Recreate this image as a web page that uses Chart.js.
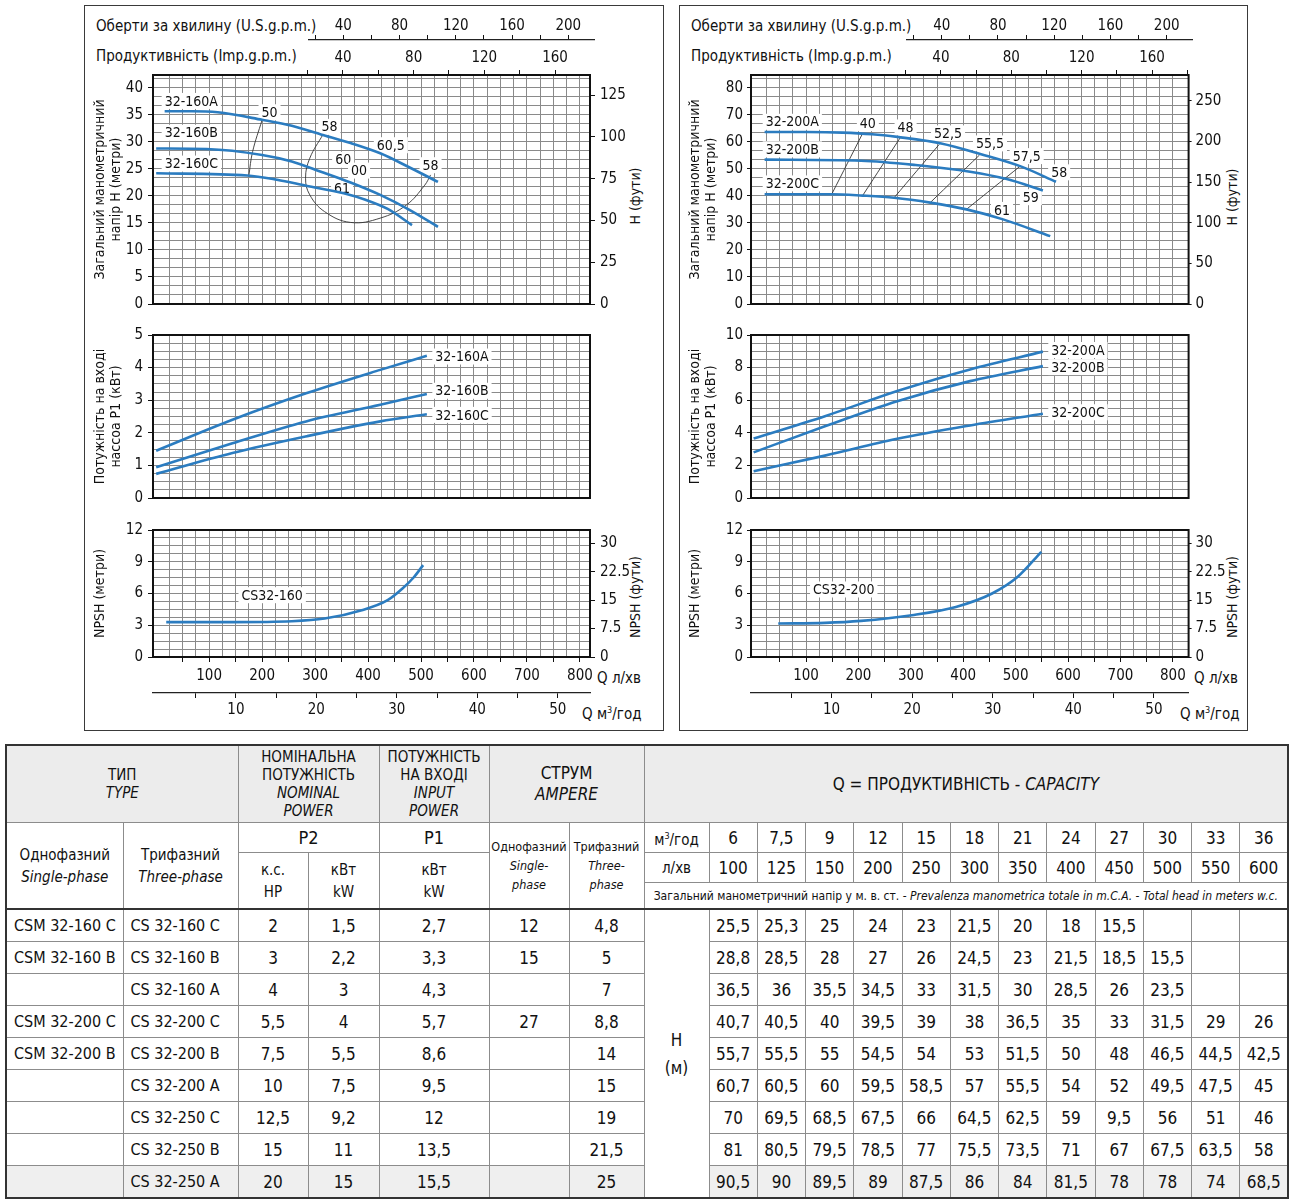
<!DOCTYPE html>
<html lang="uk">
<head>
<meta charset="utf-8">
<title>CS 32-160 / CS 32-200</title>
<script src="https://cdn.jsdelivr.net/npm/chart.js@4.4.1/dist/chart.umd.min.js"></script>
<style>
  html, body { margin: 0; background: #fff; }
  #page { position: relative; width: 1294px; height: 1204px; overflow: hidden;
    font-family: "Liberation Sans Narrow", "DejaVu Sans Condensed", "Liberation Sans", sans-serif; color: #111; }
  .panel { position: absolute; border: 1.5px solid #3a3a3a; box-sizing: border-box; }
  #page canvas { position: absolute; }
  .lbl { position: absolute; font-size: 15px; line-height: 18px; white-space: nowrap; }
  .rot { position: absolute; font-size: 14px; line-height: 17px; white-space: nowrap;
    transform: translate(-50%, -50%) rotate(-90deg); }
  #tbl { position: absolute; left: 5px; top: 744px; width: 1283px; border-collapse: collapse;
    table-layout: fixed; border: 2px solid #333; }
  #tbl td, #tbl th { border: 1px solid #8c8c8c; text-align: center; padding: 0; font-weight: normal;
    overflow: hidden; white-space: nowrap; }
  #tbl th { font-size: 15px; line-height: 18px; }
  #tbl .r1 th { background: #ececec; height: 76px; }
  #tbl .r2 th, #tbl .r3 th { height: 29px; font-size: 17px; }
  #tbl .r4 th { height: 25px; font-size: 12px; }
  #tbl .big { font-size: 18px !important; }
  #tbl td { font-size: 17px; height: 31px; line-height: 20px; }
  #tbl td.nm { text-align: left; padding-left: 7px; font-size: 16px; }
  #tbl tr.first td { border-top: 2px solid #333; }
  #tbl tr.last td { background: #efefef; }
  #tbl td.hcell { background: #fff !important; font-size: 17px; line-height: 28px; }
</style>
</head>
<body>
<div id="page">
  <div class="panel" style="left:84px;top:5px;width:580px;height:726px"></div>
  <div class="panel" style="left:679px;top:5px;width:569px;height:726px"></div>

  <div class="lbl" style="left:96px;top:17px">Оберти за хвилину (U.S.g.p.m.)</div>
  <div class="lbl" style="left:96px;top:47px">Продуктивність (Imp.g.p.m.)</div>
  <div class="lbl" style="left:597px;top:669px">Q л/хв</div>
  <div class="lbl" style="left:582px;top:701px">Q м<sup style="font-size:9px">3</sup>/год</div>
  <div class="rot" style="left:635px;top:196px">H (фути)</div>
  <div class="rot" style="left:635px;top:597px">NPSH (фути)</div>

  <div class="lbl" style="left:691px;top:17px">Оберти за хвилину (U.S.g.p.m.)</div>
  <div class="lbl" style="left:691px;top:47px">Продуктивність (Imp.g.p.m.)</div>
  <div class="lbl" style="left:1194px;top:669px">Q л/хв</div>
  <div class="lbl" style="left:1180px;top:701px">Q м<sup style="font-size:9px">3</sup>/год</div>
  <div class="rot" style="left:1232px;top:197px">H (фути)</div>
  <div class="rot" style="left:1232px;top:597px">NPSH (фути)</div>

  <table id="tbl"></table>
</div>

<script>
const FONT = '"Liberation Sans Narrow", "DejaVu Sans Condensed", "Liberation Sans", sans-serif';
const BLUE = '#2b7cc0';
const GRID = '#8a8a8a';

// ---------- CS 32-160 : head (Q л/хв -> H м) ----------
const q160A = [16, 67, 116, 200, 256, 311, 367, 423, 472, 532];
const h160A = [35.7, 35.7, 35.5, 34.1, 33.0, 31.4, 29.8, 27.9, 25.6, 22.6];
const q160B = [0, 95, 200, 256, 311, 367, 423, 479, 532];
const h160B = [28.8, 28.7, 27.6, 26.4, 24.5, 22.5, 20.2, 17.4, 14.3];
const q160C = [0, 172, 228, 283, 354, 395, 437, 483];
const h160C = [24.2, 23.8, 23.0, 21.9, 20.5, 19.3, 17.6, 14.6];
// efficiency lines
const qEff50 = [200, 182, 175];
const hEff50 = [34.1, 28.2, 23.8];
const qEff58 = [315, 290, 282, 290, 318, 367, 423, 472, 507, 518];
const hEff58 = [31.4, 27.0, 23.3, 20.2, 17.1, 15.1, 15.9, 18.3, 22.0, 23.9];
// power P1 (кВт)
const qPow160 = [0, 144, 283, 423, 511];
const p160A = [1.45, 2.40, 3.21, 3.93, 4.36];
const p160B = [0.94, 1.68, 2.35, 2.86, 3.19];
const p160C = [0.74, 1.38, 1.89, 2.35, 2.57];
// NPSH (м)
const qNpsh160 = [19, 144, 256, 318, 388, 437, 465, 486, 504];
const npsh160 = [3.3, 3.3, 3.38, 3.63, 4.42, 5.37, 6.47, 7.51, 8.68];

// ---------- CS 32-200 ----------
const q200A = [21, 101, 170, 226, 274, 358, 434, 511, 577];
const h200A = [63.6, 63.6, 63.4, 62.8, 61.8, 59.4, 55.4, 50.8, 45.2];
const q200B = [21, 205, 309, 413, 483, 552];
const h200B = [53.4, 53.0, 51.4, 48.9, 46.2, 42.0];
const q200C = [21, 149, 208, 268, 337, 406, 476, 566];
const h200C = [40.6, 40.6, 40.1, 39.3, 37.5, 35.0, 31.3, 25.1];
const effLines200 = [
  { q: [149, 208], h: [40.6, 63.1] },
  { q: [208, 281], h: [40.1, 61.9] },
  { q: [268, 354], h: [39.3, 59.0] },
  { q: [337, 431], h: [37.5, 55.1] },
  { q: [406, 510], h: [35.0, 51.2] }
];
const qPow200 = [0, 136, 274, 413, 552];
const p200A = [3.65, 5.02, 6.56, 7.89, 8.98];
const p200B = [2.80, 4.40, 5.94, 7.17, 8.09];
const p200C = [1.64, 2.60, 3.63, 4.45, 5.17];
const qNpsh200 = [47, 136, 205, 302, 386, 455, 504, 549];
const npsh200 = [3.16, 3.22, 3.41, 3.95, 4.73, 6.0, 7.58, 9.94];

// ---------- text labels inside plots (q, value) ----------
const notesHead160 = [
  { t: '32-160A', q: 16, v: 37.6, a: 'left' }, { t: '32-160B', q: 16, v: 31.7, a: 'left' },
  { t: '32-160C', q: 16, v: 26.0, a: 'left' },
  { t: '50', q: 214, v: 35.5 }, { t: '58', q: 327, v: 32.8 }, { t: '60,5', q: 443, v: 29.4 },
  { t: '60', q: 353, v: 26.7 }, { t: '00', q: 383, v: 24.7 }, { t: '61', q: 351, v: 21.4 },
  { t: '58', q: 518, v: 25.7 }
];
const notesPow160 = [
  { t: '32-160A', q: 527, v: 4.34, a: 'left' }, { t: '32-160B', q: 527, v: 3.29, a: 'left' },
  { t: '32-160C', q: 527, v: 2.55, a: 'left' }
];
const notesNpsh160 = [{ t: 'CS32-160', q: 219, v: 5.84 }];
const notesHead200 = [
  { t: '32-200A', q: 23, v: 67.4, a: 'left' }, { t: '32-200B', q: 23, v: 57.2, a: 'left' },
  { t: '32-200C', q: 23, v: 44.6, a: 'left' },
  { t: '40', q: 218, v: 66.9 }, { t: '48', q: 290, v: 65.3 }, { t: '52,5', q: 371, v: 63.1 },
  { t: '55,5', q: 451, v: 59.4 }, { t: '57,5', q: 521, v: 54.7 }, { t: '58', q: 583, v: 48.7 },
  { t: '59', q: 529, v: 39.5 }, { t: '61', q: 474, v: 34.8 }
];
const notesPow200 = [
  { t: '32-200A', q: 568, v: 9.08, a: 'left' }, { t: '32-200B', q: 568, v: 8.03, a: 'left' },
  { t: '32-200C', q: 568, v: 5.26, a: 'left' }
];
const notesNpsh200 = [{ t: 'CS32-200', q: 172, v: 6.38 }];

// ---------- table ----------
const typeSingle = ['CSM 32-160 C', 'CSM 32-160 B', '', 'CSM 32-200 C', 'CSM 32-200 B', '', '', '', ''];
const typeThree = ['CS 32-160 C', 'CS 32-160 B', 'CS 32-160 A', 'CS 32-200 C', 'CS 32-200 B',
  'CS 32-200 A', 'CS 32-250 C', 'CS 32-250 B', 'CS 32-250 A'];
const p2Hp = [2, 3, 4, 5.5, 7.5, 10, 12.5, 15, 20];
const p2Kw = [1.5, 2.2, 3, 4, 5.5, 7.5, 9.2, 11, 15];
const p1Kw = [2.7, 3.3, 4.3, 5.7, 8.6, 9.5, 12, 13.5, 15.5];
const ampSingle = [12, 15, null, 27, null, null, null, null, null];
const ampThree = [4.8, 5, 7, 8.8, 14, 15, 19, 21.5, 25];
const capM3 = [6, 7.5, 9, 12, 15, 18, 21, 24, 27, 30, 33, 36];
const capLmin = [100, 125, 150, 200, 250, 300, 350, 400, 450, 500, 550, 600];
const headRows = [
  [25.5, 25.3, 25, 24, 23, 21.5, 20, 18, 15.5, null, null, null],
  [28.8, 28.5, 28, 27, 26, 24.5, 23, 21.5, 18.5, 15.5, null, null],
  [36.5, 36, 35.5, 34.5, 33, 31.5, 30, 28.5, 26, 23.5, null, null],
  [40.7, 40.5, 40, 39.5, 39, 38, 36.5, 35, 33, 31.5, 29, 26],
  [55.7, 55.5, 55, 54.5, 54, 53, 51.5, 50, 48, 46.5, 44.5, 42.5],
  [60.7, 60.5, 60, 59.5, 58.5, 57, 55.5, 54, 52, 49.5, 47.5, 45],
  [70, 69.5, 68.5, 67.5, 66, 64.5, 62.5, 59, 9.5, 56, 51, 46],
  [81, 80.5, 79.5, 78.5, 77, 75.5, 73.5, 71, 67, 67.5, 63.5, 58],
  [90.5, 90, 89.5, 89, 87.5, 86, 84, 81.5, 78, 78, 74, 68.5]
];

// ---------- helpers ----------
Chart.defaults.font.family = FONT;
Chart.defaults.font.size = 15;
Chart.defaults.color = '#111';
Chart.defaults.animation = false;

const pts = (qs, vs) => qs.map((q, i) => ({ x: q, y: vs[i] }));
const comma = v => (v === null || v === undefined) ? '' : String(v).replace('.', ',');
const isMult = (v, s) => Math.abs(v / s - Math.round(v / s)) < 1e-6;
function range(a, b, s) { const out = []; for (let v = a; v <= b + 1e-9; v += s) out.push(+v.toFixed(5)); return out; }
const ticksAt = list => axis => {
  axis.ticks = list.filter(v => v >= axis.min - 1e-9 && v <= axis.max + 1e-9).map(v => ({ value: v }));
};
// fixed axis sizes, and no extra label overflow padding
const fixW = w => s => { s.width = w; s.paddingTop = 0; s.paddingBottom = 0; };
const fixH = h => s => { s.height = h; s.paddingLeft = 0; s.paddingRight = 0; };

function mount(left, top, w, h) {
  const c = document.createElement('canvas');
  c.width = w; c.height = h;
  c.style.left = left + 'px'; c.style.top = top + 'px';
  c.style.width = w + 'px'; c.style.height = h + 'px';
  document.getElementById('page').appendChild(c);
  return c.getContext('2d');
}

const frame = {
  id: 'frame',
  afterDraw(chart) {
    const a = chart.chartArea, ctx = chart.ctx;
    ctx.save();
    ctx.lineWidth = 2; ctx.strokeStyle = '#111';
    ctx.strokeRect(a.left, a.top, a.right - a.left, a.bottom - a.top);
    ctx.restore();
  }
};

function notes(items) {
  return {
    id: 'notes',
    beforeDatasetsDraw(chart) {
      const ctx = chart.ctx, xs = chart.scales.x, ys = chart.scales.y;
      ctx.save();
      ctx.font = '14px ' + FONT;
      ctx.textBaseline = 'middle';
      items.forEach(n => {
        const px = xs.getPixelForValue(n.q), py = ys.getPixelForValue(n.v);
        const w = ctx.measureText(n.t).width;
        const x0 = n.a === 'left' ? px : px - w / 2;
        ctx.fillStyle = '#fff';
        ctx.fillRect(x0 - 3, py - 8, w + 6, 16);
        ctx.fillStyle = '#111';
        ctx.fillText(n.t, x0, py + 1);
      });
      ctx.restore();
    }
  };
}

const curve = (qs, vs) => ({ data: pts(qs, vs), borderColor: BLUE, borderWidth: 2.6, pointRadius: 0,
  tension: 0.4, cubicInterpolationMode: 'monotone' });
const thin = (qs, vs) => ({ data: pts(qs, vs), borderColor: '#333', borderWidth: 0.9, pointRadius: 0, tension: 0.4 });

// panel geometry
const L = { x: 84, w: 579, plotL: 153, plotR: 590, q: [-6, 819], m3: [-0.3, 54], imp: [-67.5, 179.8],
  us: [309, 594, 15.6, 218.3], tl: 5, tp: 5, rl: 5, rp: 5, headMax: 42.4, ftMax: 137,
  headGrid: 5 / 3, headLab: 5, ftTicks: [0, 25, 50, 75, 100, 125], powMax: 5, powGrid: 0.25, powLab: 1 };
const R = { x: 679, w: 568, plotL: 751, plotR: 1188.6, q: [-5, 830], m3: [0, 54.3], imp: [-68, 180.8],
  us: [906.5, 1192, 15.3, 218], tl: 4, tp: 4, rl: 3, rp: 4, headMax: 84.7, ftMax: 282,
  headGrid: 10 / 3, headLab: 10, ftTicks: [0, 50, 100, 150, 200, 250], powMax: 10, powGrid: 0.5, powLab: 2 };

function gridX(P) {
  return { type: 'linear', position: 'bottom', min: P.q[0], max: P.q[1],
    afterBuildTicks: ticksAt(range(25, 800, 25)),
    ticks: { display: false }, border: { display: false },
    grid: { color: GRID, drawTicks: false }, afterFit: fixH(0) };
}
function yLeft(P, max, step, lab, title) {
  return { type: 'linear', position: 'left', min: 0, max,
    afterBuildTicks: ticksAt(range(0, max, step)),
    ticks: { autoSkip: false, padding: P.tp, callback: v => isMult(v, lab) ? String(Math.round(v)) : '' },
    grid: { color: GRID, tickLength: P.tl, tickColor: c => isMult(c.tick.value, lab) ? '#111' : 'rgba(0,0,0,0)' },
    border: { display: false },
    title: { display: true, text: title, padding: { top: 7.6, bottom: 0 }, font: { size: 14 } },
    afterFit: fixW(P.plotL - P.x) };
}
function yRight(P, max, list) {
  return { type: 'linear', position: 'right', min: 0, max,
    afterBuildTicks: ticksAt(list),
    ticks: { autoSkip: false, padding: P.rp, callback: v => String(v) },
    grid: { drawOnChartArea: false, tickLength: P.rl, tickColor: '#111' },
    border: { display: false },
    afterFit: fixW(P.x + P.w - P.plotR) };
}

function usAxis(P) {
  const [x0, x1, mn, mx] = P.us;
  new Chart(mount(x0 - 20, 10, x1 - x0 + 40, 32), {
    type: 'line', data: { datasets: [] },
    options: { responsive: false, layout: { padding: { left: 20, right: 20, top: 0, bottom: 0 } },
      plugins: { legend: { display: false }, tooltip: { enabled: false } },
      scales: {
        x: { type: 'linear', position: 'top', min: mn, max: mx,
          afterBuildTicks: ticksAt(range(20, 200, 20)),
          ticks: { autoSkip: false, maxRotation: 0, padding: 0, callback: v => isMult(v, 40) ? String(v) : '' },
          grid: { drawOnChartArea: false, tickLength: 5, tickColor: '#111' },
          border: { display: true, color: '#222', width: 1.3 }, afterFit: fixH(30) },
        y: { display: false, min: 0, max: 1 }
      } }
  });
}

function headChart(P, datasets, items) {
  new Chart(mount(P.x, 44, P.w, 272), {
    type: 'line', data: { datasets },
    options: { responsive: false, layout: { padding: { top: 0, bottom: 12, left: 0, right: 0 } },
      plugins: { legend: { display: false }, tooltip: { enabled: false } },
      scales: {
        x: gridX(P),
        imp: { type: 'linear', position: 'top', min: P.imp[0], max: P.imp[1],
          afterBuildTicks: ticksAt(range(20, 200, 20)),
          ticks: { autoSkip: false, maxRotation: 0, padding: 3, callback: v => isMult(v, 40) ? String(v) : '' },
          grid: { drawOnChartArea: false, tickLength: 5, tickColor: '#111' },
          border: { display: false }, afterFit: fixH(31) },
        y: yLeft(P, P.headMax, P.headGrid, P.headLab, ['Загальний манометричний', 'напір H (метри)']),
        yft: yRight(P, P.ftMax, P.ftTicks)
      } },
    plugins: [frame, notes(items)]
  });
}

function powerChart(P, datasets, items) {
  new Chart(mount(P.x, 322, P.w, 188), {
    type: 'line', data: { datasets },
    options: { responsive: false,
      layout: { padding: { top: 13, bottom: 12, left: 0, right: P.x + P.w - P.plotR } },
      plugins: { legend: { display: false }, tooltip: { enabled: false } },
      scales: {
        x: gridX(P),
        y: yLeft(P, P.powMax, P.powGrid, P.powLab, ['Потужність на вході', 'нассоа P1 (кВт)'])
      } },
    plugins: [frame, notes(items)]
  });
}

function npshChart(P, datasets, items) {
  new Chart(mount(P.x, 518, P.w, 207), {
    type: 'line', data: { datasets },
    options: { responsive: false, layout: { padding: { top: 12, bottom: 0, left: 0, right: 0 } },
      plugins: { legend: { display: false }, tooltip: { enabled: false } },
      scales: {
        x: { type: 'linear', position: 'bottom', min: P.q[0], max: P.q[1],
          afterBuildTicks: ticksAt(range(25, 800, 25)),
          ticks: { autoSkip: false, maxRotation: 0, padding: 5, callback: v => isMult(v, 100) ? String(v) : '' },
          grid: { color: GRID, tickLength: 5, tickColor: c => isMult(c.tick.value, 50) ? '#111' : 'rgba(0,0,0,0)' },
          border: { display: false }, afterFit: fixH(36) },
        m3: { type: 'linear', position: 'bottom', weight: 1, min: P.m3[0], max: P.m3[1],
          afterBuildTicks: ticksAt(range(5, 50, 5)),
          ticks: { autoSkip: false, maxRotation: 0, padding: 3, callback: v => isMult(v, 10) ? String(v) : '' },
          grid: { drawOnChartArea: false, tickLength: 5, tickColor: '#111' },
          border: { display: true, color: '#222', width: 1.3 }, afterFit: fixH(32) },
        y: yLeft(P, 12, 0.75, 3, 'NPSH (метри)'),
        yft: yRight(P, 33.5, [0, 7.5, 15, 22.5, 30])
      } },
    plugins: [frame, notes(items)]
  });
}

// ---------- left panel ----------
usAxis(L);
headChart(L, [
  curve(q160A, h160A), curve(q160B, h160B), curve(q160C, h160C),
  thin(qEff50, hEff50), thin(qEff58, hEff58)
], notesHead160);
powerChart(L, [curve(qPow160, p160A), curve(qPow160, p160B), curve(qPow160, p160C)], notesPow160);
npshChart(L, [curve(qNpsh160, npsh160)], notesNpsh160);

// ---------- right panel ----------
usAxis(R);
headChart(R, [
  curve(q200A, h200A), curve(q200B, h200B), curve(q200C, h200C),
  ...effLines200.map(e => thin(e.q, e.h))
], notesHead200);
powerChart(R, [curve(qPow200, p200A), curve(qPow200, p200B), curve(qPow200, p200C)], notesPow200);
npshChart(R, [curve(qNpsh200, npsh200)], notesNpsh200);

// ---------- table ----------
(function buildTable() {
  const widths = [117, 115, 70, 71, 110, 80, 75, 65].concat(capM3.map(() => 48.25));
  let html = '<colgroup>' + widths.map(w => `<col style="width:${w}px">`).join('') + '</colgroup>';
  html += '<tr class="r1"><th colspan="2">ТИП<br><i>TYPE</i></th>' +
    '<th colspan="2">НОМІНАЛЬНА<br>ПОТУЖНІСТЬ<br><i>NOMINAL<br>POWER</i></th>' +
    '<th>ПОТУЖНІСТЬ<br>НА ВХОДІ<br><i>INPUT<br>POWER</i></th>' +
    '<th colspan="2" style="font-size:17px;line-height:21px">СТРУМ<br><i>AMPERE</i></th>' +
    '<th colspan="13" style="font-size:17px">Q = ПРОДУКТИВНІСТЬ - <i>CAPACITY</i></th></tr>';
  html += '<tr class="r2"><th rowspan="3" style="font-size:15px;line-height:22px">Однофазний<br><i>Single-phase</i></th>' +
    '<th rowspan="3" style="font-size:15px;line-height:22px">Трифазний<br><i>Three-phase</i></th>' +
    '<th colspan="2" class="big">P2</th><th class="big">P1</th>' +
    '<th rowspan="3" style="font-size:12.5px;line-height:19px">Однофазний<br><i>Single-<br>phase</i></th>' +
    '<th rowspan="3" style="font-size:12.5px;line-height:19px">Трифазний<br><i>Three-<br>phase</i></th>' +
    '<th style="font-size:15px">м<sup style="font-size:9px">3</sup>/год</th>' +
    capM3.map(v => `<th>${comma(v)}</th>`).join('') + '</tr>';
  html += '<tr class="r3"><th rowspan="2" style="font-size:15px;line-height:22px">к.с.<br>HP</th>' +
    '<th rowspan="2" style="font-size:15px;line-height:22px">кВт<br>kW</th>' +
    '<th rowspan="2" style="font-size:15px;line-height:22px">кВт<br>kW</th>' +
    '<th style="font-size:15px">л/хв</th>' + capLmin.map(v => `<th>${v}</th>`).join('') + '</tr>';
  html += '<tr class="r4"><th colspan="13">Загальний манометричний напір у м. в. ст. - ' +
    '<i>Prevalenza manometrica totale in m.C.A.</i> - <i>Total head in meters w.c.</i></th></tr>';
  typeThree.forEach((t, i) => {
    const cls = i === 0 ? 'first' : (i === typeThree.length - 1 ? 'last' : '');
    html += `<tr class="${cls}"><td class="nm">${typeSingle[i]}</td><td class="nm">${t}</td>` +
      `<td>${comma(p2Hp[i])}</td><td>${comma(p2Kw[i])}</td><td>${comma(p1Kw[i])}</td>` +
      `<td>${comma(ampSingle[i])}</td><td>${comma(ampThree[i])}</td>` +
      (i === 0 ? `<td rowspan="${typeThree.length}" class="hcell">H<br>(м)</td>` : '') +
      headRows[i].map(v => `<td>${comma(v)}</td>`).join('') + '</tr>';
  });
  document.getElementById('tbl').innerHTML = html;
})();
</script>
</body>
</html>
